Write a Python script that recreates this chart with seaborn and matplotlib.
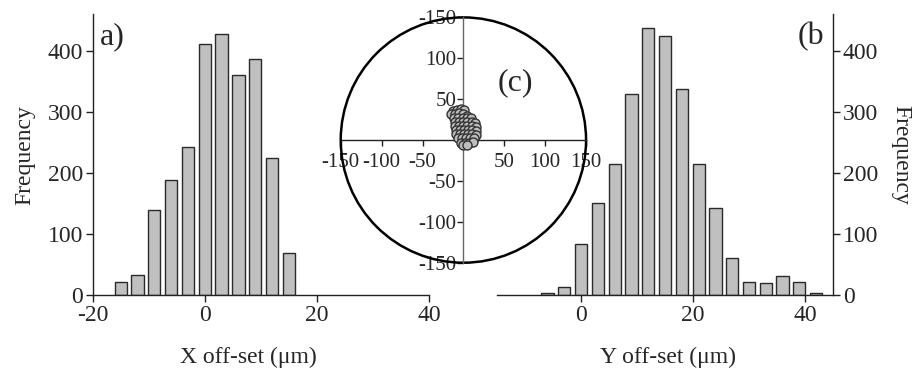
import numpy as np
import pandas as pd
import matplotlib
matplotlib.use("Agg")
import matplotlib.pyplot as plt
import seaborn as sns
from matplotlib.patches import Circle

# histogram (a): X off-set
x_centers = [-15, -12, -9, -6, -3, 0, 3, 6, 9, 12, 15]
x_counts = [21, 33, 140, 189, 243, 411, 427, 361, 387, 225, 69]

# histogram (b): Y off-set
y_centers = [-6, -3, 0, 3, 6, 9, 12, 15, 18, 21, 24, 27, 30, 33, 36, 39, 42]
y_counts = [4, 13, 84, 150, 214, 330, 437, 425, 337, 215, 142, 61, 21, 19, 31, 22, 4]

# inset (c): individual offsets (um)
pts_x = [-13, -8, -3, 1,
         -15, -10, -5, 0, 5,
         -11, -6, -1, 4, 9,
         -10, -5, 0, 5, 10, 14,
         -10, -5, 0, 5, 10, 15,
         -9, -4, 1, 6, 11, 15,
         -9, -4, 1, 6, 11, 15,
         -7, -2, 3, 8, 13,
         -3, 2, 7, 12,
         0, 5]
pts_y = [36, 37, 38, 37,
         32, 32, 33, 32, 30,
         27, 27, 27, 27, 27,
         22, 22, 22, 22, 22, 21,
         17, 17, 17, 17, 17, 16,
         12, 12, 12, 12, 12, 11,
         7, 7, 7, 7, 7, 6,
         2, 2, 2, 2, 2,
         -3, -3, -3, -2,
         -6, -6]
circle_r = 150
inset_ticks = [-150, -100, -50, 50, 100, 150]
inset_ylabels = ['-150', '-100', '-50', '50', '100', '-150']

sns.set_theme(style='ticks')
plt.rcParams['font.family'] = ['Liberation Serif', 'DejaVu Serif']
plt.rcParams['axes.unicode_minus'] = False

bar_kw = dict(color='#c0c0c0', edgecolor='#2a2a2a', linewidth=1.0, alpha=1)
fs = 17

fig = plt.figure(figsize=(9.14, 3.72), dpi=100)

# ---- (a) ----
ax1 = fig.add_axes([0.1014, 0.207, 0.368, 0.755])
dfx = pd.DataFrame({'off': x_centers, 'n': x_counts})
sns.histplot(data=dfx, x='off', weights='n', binwidth=3, binrange=(-16.5, 16.5),
             shrink=0.73, ax=ax1, **bar_kw)
ax1.set_xlim(-20, 40)
ax1.set_ylim(0, 460)
ax1.set_xticks([-20, 0, 20, 40])
ax1.set_yticks([0, 100, 200, 300, 400])
ax1.spines[['top', 'right']].set_visible(False)
ax1.set_xlabel('X off-set (μm)', fontsize=fs)
ax1.xaxis.set_label_coords(0.462, -0.185)
ax1.set_ylabel('Frequency', fontsize=fs, labelpad=9)
ax1.text(0.02, 0.92, 'a)', transform=ax1.transAxes, fontsize=23, va='center', ha='left')

# ---- (b) ----
ax2 = fig.add_axes([0.544, 0.207, 0.3673, 0.755])
dfy = pd.DataFrame({'off': y_centers, 'n': y_counts})
sns.histplot(data=dfy, x='off', weights='n', binwidth=3, binrange=(-7.5, 43.5),
             shrink=0.73, ax=ax2, **bar_kw)
ax2.set_xlim(-15, 45)
ax2.set_ylim(0, 460)
ax2.set_xticks([0, 20, 40])
ax2.set_yticks([0, 100, 200, 300, 400])
ax2.spines[['top', 'left']].set_visible(False)
ax2.spines['right'].set_visible(True)
ax2.yaxis.tick_right()
ax2.yaxis.set_label_position('right')
ax2.set_xlabel('Y off-set (μm)', fontsize=fs)
ax2.xaxis.set_label_coords(0.509, -0.185)
ax2.set_ylabel('Frequency', fontsize=fs, rotation=270, labelpad=24)
ax2.text(0.975, 0.92, '(b', transform=ax2.transAxes, fontsize=23, va='center', ha='right')

for ax in (ax1, ax2):
    ax.tick_params(labelsize=fs, direction='out', length=5, width=1, color='#222', pad=2)
    for s in ax.spines.values():
        s.set_linewidth(1.0)
        s.set_color('#222')

# ---- (c) inset ----
ax3 = fig.add_axes([0.3728, 0.2938, 0.2684, 0.6594])
ax3.set_facecolor('none')
ax3.add_patch(Circle((0, 0), circle_r, fill=False, edgecolor='black', linewidth=1.8,
                     clip_on=False, zorder=1))
sns.scatterplot(x=pts_x, y=pts_y, ax=ax3, s=42, color='#bdbdbd', edgecolor='#333333',
                linewidth=1.0, zorder=3, legend=False)
ax3.set_xlim(-150, 150)
ax3.set_ylim(-150, 150)
for side in ['top', 'right']:
    ax3.spines[side].set_visible(False)
ax3.spines['left'].set_position('zero')
ax3.spines['bottom'].set_position('zero')
ax3.spines['left'].set_color('#666666')
ax3.spines['bottom'].set_color('#222222')
ax3.spines['left'].set_linewidth(1.0)
ax3.spines['bottom'].set_linewidth(1.0)
ax3.set_xticks(inset_ticks)
ax3.set_xticklabels([str(t) for t in inset_ticks])
ax3.set_yticks(inset_ticks)
ax3.set_yticklabels(inset_ylabels)
ax3.tick_params(labelsize=15, direction='out', length=4, width=1, color='#222', pad=1)
ax3.tick_params(axis='x', pad=5)
for lab in ax3.get_xticklabels() + ax3.get_yticklabels():
    lab.set_bbox(dict(facecolor='white', edgecolor='none', pad=0.5))
ax3.set_xlabel('')
ax3.set_ylabel('')
ax3.text(63, 70, '(c)', fontsize=23, ha='center', va='center')

fig.savefig('out.png', dpi=100)
